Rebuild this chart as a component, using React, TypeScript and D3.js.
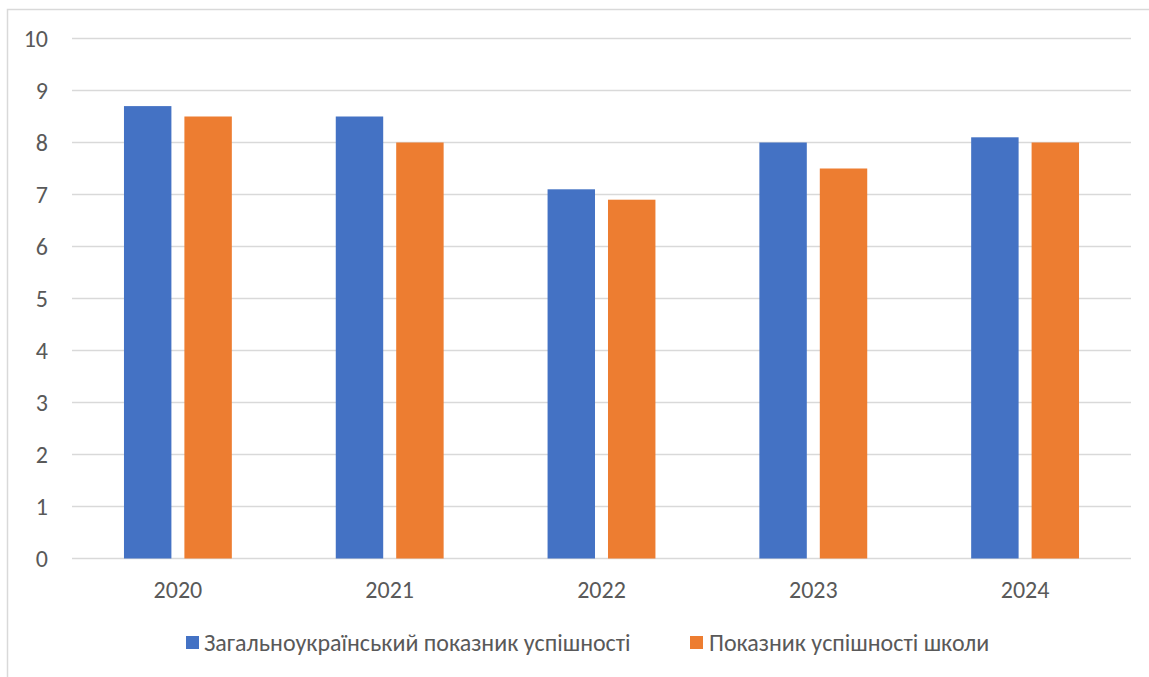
import React from "react";
import * as d3 from "d3";

const years = ["2020", "2021", "2022", "2023", "2024"];
const seriesNames = ["Загальноукраїнський показник успішності", "Показник успішності школи"];
const nationalValues = [8.7, 8.5, 7.1, 8.0, 8.1];
const schoolValues = [8.5, 8.0, 6.9, 7.5, 8.0];
const yTicks = [0, 1, 2, 3, 4, 5, 6, 7, 8, 9, 10];
const colors = ["#4472C4", "#ED7D31"];

const W = 1149;
const H = 677;
const FONT = "Carlito, Calibri, 'Liberation Sans Narrow', 'Liberation Sans', sans-serif";

export default function App() {
  const x = d3.scaleBand<string>().domain(years).range([72, 1131]).padding(0);
  const sub = d3
    .scaleBand<number>()
    .domain([0, 1])
    .range([0, x.bandwidth()])
    .paddingInner(0.215)
    .paddingOuter(0.86);
  const y = d3.scaleLinear().domain([0, 10]).range([558.5, 38.5]);
  const series = [nationalValues, schoolValues];

  const legend = [
    { sx: 186, tx: 204 },
    { sx: 690, tx: 709 },
  ];

  return (
    <svg
      width={W}
      height={H}
      style={{ position: "absolute", left: 0, top: 0, background: "#fff" }}
      fontFamily={FONT}
    >
      <rect x={7.5} y={9.5} width={W + 20} height={H + 20} fill="#fff" stroke="#d9d9d9" strokeWidth={1.5} />
      {yTicks.map((t) => (
        <g key={t}>
          <line x1={72} x2={1131} y1={y(t)} y2={y(t)} stroke="#d9d9d9" strokeWidth={1.5} />
          <text x={48} y={y(t)} dy="0.35em" textAnchor="end" fontSize={24} fill="#595959">
            {t}
          </text>
        </g>
      ))}
      {series.map((vals, si) =>
        vals.map((v, i) => (
          <rect
            key={`${si}-${i}`}
            x={(x(years[i]) as number) + (sub(si) as number)}
            y={y(v)}
            width={sub.bandwidth()}
            height={y(0) - y(v)}
            fill={colors[si]}
          />
        ))
      )}
      {years.map((yr) => (
        <text
          key={yr}
          x={(x(yr) as number) + x.bandwidth() / 2}
          y={598}
          textAnchor="middle"
          fontSize={24}
          fill="#595959"
        >
          {yr}
        </text>
      ))}
      {seriesNames.map((n, i) => (
        <g key={n}>
          <rect x={legend[i].sx} y={636} width={13} height={13} fill={colors[i]} />
          <text x={legend[i].tx} y={650.5} fontSize={24} fill="#595959">
            {n}
          </text>
        </g>
      ))}
    </svg>
  );
}
